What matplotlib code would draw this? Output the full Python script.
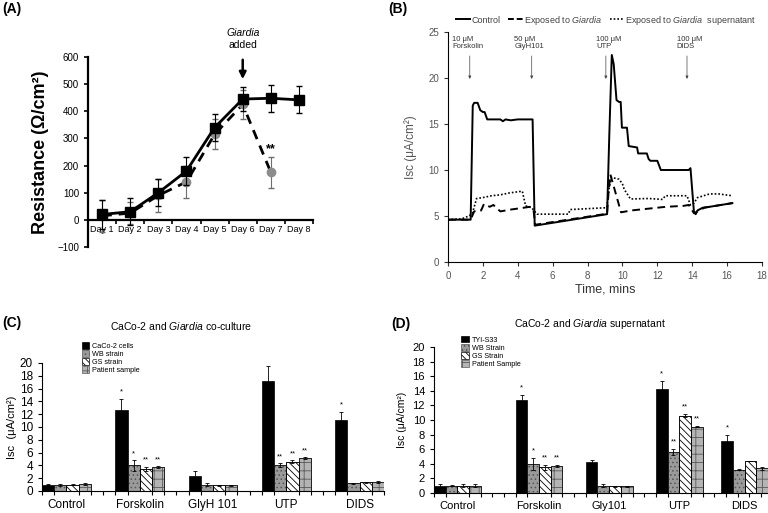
import numpy as np
import matplotlib
matplotlib.use('Agg')
import matplotlib.pyplot as plt
from matplotlib.lines import Line2D
from matplotlib.patches import Patch

plt.rcParams['font.family'] = ['Liberation Sans', 'DejaVu Sans']
plt.rcParams['mathtext.fontset'] = 'custom'
plt.rcParams['mathtext.rm'] = 'Liberation Sans'
plt.rcParams['mathtext.it'] = 'Liberation Sans:italic'
plt.rcParams['hatch.linewidth'] = 0.6

# (A) resistencia
days = ['Day 1', 'Day 2', 'Day 3', 'Day 4', 'Day 5', 'Day 6', 'Day 7', 'Day 8']
res_control = [20, 30, 100, 180, 340, 445, 448, 442]
res_control_err = [55, 50, 50, 50, 50, 45, 50, 50]
res_giardia = [15, 25, 90, 140, 315, 425, 175]
res_giardia_err = [60, 40, 60, 60, 55, 55, 58]

# (B) Isc vs tiempo
t_ctrl = [0, 1.3, 1.42, 1.5, 1.7, 1.85, 2.0, 2.1, 2.25, 2.5, 3.0, 3.15, 3.3, 3.6, 4.0, 4.85,
          4.97, 9.12, 9.25, 9.39, 9.5, 9.66, 9.8, 9.9, 9.97, 10.26, 10.36, 10.84, 10.9, 11.4,
          11.5, 11.6, 12.0, 12.2, 13.8, 13.9, 14.1, 14.2, 14.3, 14.6, 15.0, 16.3]
isc_ctrl = [4.6, 4.6, 17.0, 17.3, 17.3, 16.5, 16.3, 16.3, 15.5, 15.5, 15.5, 15.3, 15.5, 15.4, 15.5, 15.5,
            3.95, 5.2, 14.0, 22.5, 21.5, 17.6, 17.4, 17.4, 14.6, 14.6, 12.6, 12.45, 11.8, 11.8,
            11.2, 11.0, 11.0, 10.0, 10.0, 10.2, 5.4, 5.2, 5.6, 5.9, 6.0, 6.4]
t_gia = [0, 1.3, 1.5, 1.7, 1.9, 2.06, 2.4, 2.6, 3.0, 3.6, 4.35, 4.7, 4.9, 5.0, 9.12, 9.2,
         9.31, 9.92, 10.5, 11.5, 12.5, 13.5, 13.8, 14.1, 14.3, 14.7, 15.0, 16.3]
isc_gia = [4.6, 4.6, 5.5, 5.6, 5.6, 6.3, 6.0, 6.2, 5.5, 5.7, 5.9, 6.0, 5.7, 4.05, 5.25, 7.5,
           9.5, 5.4, 5.6, 5.8, 6.0, 6.1, 6.2, 5.3, 5.5, 5.9, 6.0, 6.4]
t_sup = [0, 0.8, 1.2, 1.4, 1.64, 2.0, 2.5, 3.0, 3.5, 4.26, 4.45, 4.8, 5.1, 6.9, 7.0, 9.1,
         9.25, 9.37, 9.8, 10.0, 10.1, 10.46, 11.5, 12.3, 12.46, 13.7, 13.9, 14.1, 14.3, 15.0,
         15.5, 16.3]
isc_sup = [4.6, 4.7, 5.0, 5.3, 6.9, 7.0, 7.2, 7.3, 7.5, 7.7, 6.1, 5.9, 5.2, 5.2, 5.7, 5.9,
           8.2, 9.2, 9.0, 8.5, 7.9, 6.85, 6.9, 6.8, 7.2, 7.2, 6.2, 6.4, 7.0, 7.4,
           7.4, 7.2]
drug_labels = ['10 μM\nForskolin', '50 μM\nGlyH101', '100 μM\nUTP', '100 μM\nDIDS']
drug_times = [1.25, 4.8, 9.05, 13.7]
drug_text_x = [0.25, 3.8, 8.5, 13.1]

# (C) co-cultivo
groups_c = ['Control', 'Forskolin', 'GlyH 101', 'UTP', 'DIDS']
start_c = [0, 6, 12, 18, 24]
caco_c = [1.0, 12.6, 2.3, 17.2, 11.1]
caco_c_err = [0.05, 1.8, 0.9, 2.4, 1.3]
wb_c = [1.0, 4.0, 1.0, 4.0, 1.2]
wb_c_err = [0.15, 0.8, 0.2, 0.3, 0.05]
gs_c = [1.0, 3.5, 0.9, 4.6, 1.35]
gs_c_err = [0.05, 0.3, 0.1, 0.2, 0.05]
pat_c = [1.05, 3.7, 0.9, 5.1, 1.4]
pat_c_err = [0.15, 0.15, 0.1, 0.15, 0.2]
sig_c = [['', '*', '', '', '*'], ['', '*', '', '**', ''], ['', '**', '', '**', ''], ['', '**', '', '**', '']]

# (D) sobrenadante
groups_d = ['Control', 'Forskolin', 'Gly101', 'UTP', 'DIDS']
start_d = [0, 7, 13, 19, 24.6]
tyi_d = [1.0, 12.7, 4.3, 14.2, 7.1]
tyi_d_err = [0.25, 0.7, 0.25, 1.1, 0.9]
wb_d = [1.0, 4.0, 1.0, 5.6, 3.2]
wb_d_err = [0.1, 0.8, 0.2, 0.4, 0.05]
gs_d = [1.0, 3.5, 0.9, 10.6, 4.4]
gs_d_err = [0.2, 0.3, 0.1, 0.2, 0.05]
pat_d = [1.0, 3.7, 0.9, 9.1, 3.4]
pat_d_err = [0.2, 0.1, 0.1, 0.1, 0.2]
sig_d = [['', '*', '', '*', '*'], ['', '*', '', '**', ''], ['', '**', '', '**', ''], ['', '**', '', '**', '']]

bar_styles = [dict(facecolor='black', edgecolor='black', hatch=None),
              dict(facecolor='#9a9a9a', edgecolor='#555555', hatch='....'),
              dict(facecolor='white', edgecolor='black', hatch='\\\\\\\\\\'),
              dict(facecolor='#b4b4b4', edgecolor='#5a5a5a', hatch='++')]

fig = plt.figure(figsize=(7.68, 5.13), dpi=100)

# ---------- (A)
axA = fig.add_axes([0.1146, 0.5185, 0.293, 0.3704])
x = np.arange(1, len(days) + 1)
axA.errorbar(x[:len(res_giardia)], res_giardia, yerr=res_giardia_err, color='black', lw=2,
             ls=(0, (3.5, 2.5)), marker='o', ms=6, mfc='#8c8c8c', mec='#8c8c8c',
             ecolor='#6e6e6e', elinewidth=0.8, capsize=2.5, zorder=2)
axA.errorbar(x, res_control, yerr=res_control_err, color='black', lw=2, marker='s', ms=6.5,
             ecolor='black', elinewidth=0.8, capsize=2.5, zorder=3)
axA.set_xlim(0.5, 8.5)
axA.set_ylim(-100, 600)
axA.spines['bottom'].set_position(('data', 0))
for s in ['top', 'right']:
    axA.spines[s].set_visible(False)
for s in ['left', 'bottom']:
    axA.spines[s].set_linewidth(1.6)
axA.set_yticks(range(-100, 601, 100))
axA.set_xticks(x)
axA.set_xticklabels(days)
axA.set_xticks(np.arange(0.5, 8.6, 1), minor=True)
axA.tick_params(axis='x', which='major', length=0, pad=4, labelsize=6.5)
axA.tick_params(axis='x', which='minor', length=3, width=1.2, direction='out')
axA.tick_params(axis='y', length=3, width=1.2, labelsize=7)
axA.set_ylabel('Resistance (Ω/cm²)', fontsize=13, fontweight='bold', labelpad=6)
axA.annotate('', xy=(6, 508), xytext=(6, 600),
             arrowprops=dict(arrowstyle='-|>', lw=1.8, color='black', mutation_scale=10),
             annotation_clip=False)
axA.text(6, 690, 'Giardia', style='italic', ha='center', va='center', fontsize=7.5)
axA.text(6, 645, 'added', ha='center', va='center', fontsize=7.5)
axA.text(7, 262, '**', ha='center', va='center', fontsize=9, fontweight='bold')

# ---------- (B)
axB = fig.add_axes([0.5833, 0.4893, 0.4089, 0.4483])
axB.plot(t_ctrl, isc_ctrl, color='black', lw=1.4)
axB.plot(t_gia, isc_gia, color='black', lw=1.4, ls=(0, (4, 2.5)))
axB.plot(t_sup, isc_sup, color='black', lw=1.2, ls=(0, (1, 1.2)))
axB.set_xlim(0, 18)
axB.set_ylim(0, 25)
axB.set_xticks(range(0, 19, 2))
axB.set_yticks(range(0, 26, 5))
for s in ['top', 'right']:
    axB.spines[s].set_visible(False)
axB.tick_params(labelsize=7, labelcolor='#555555', length=3, color='#333333')
axB.set_xlabel('Time, mins', fontsize=9, color='#333333', labelpad=2)
axB.set_ylabel('Isc (μA/cm²)', fontsize=8.5, color='#555555', labelpad=8)
for lab, tx, tt in zip(drug_labels, drug_text_x, drug_times):
    axB.text(tx, 24.6, lab, ha='left', va='top', fontsize=5.5, color='#333333', linespacing=1.1)
    axB.annotate('', xy=(tt, 19.6), xytext=(tt, 22.7),
                 arrowprops=dict(arrowstyle='-|>', lw=0.5, color='#444444', mutation_scale=4))
leg_handles = [Line2D([], [], color='black', lw=1.4),
               Line2D([], [], color='black', lw=1.4, ls=(0, (3, 1.5))),
               Line2D([], [], color='black', lw=1.2, ls=(0, (1, 1.2)))]
leg_labels = ['Control', 'Exposed to $\\mathit{Giardia}$',
              'Exposed to $\\mathit{Giardia}$  supernatant']
fig.legend(leg_handles, leg_labels, loc='center', bbox_to_anchor=(0.789, 0.961), ncol=3,
           frameon=False, fontsize=6.5, handlelength=1.6, columnspacing=0.9,
           handletextpad=0.1, labelcolor='#444444')


def draw_bars(ax, starts, series, errs, sigs, labels, leg_names, leg_anchor, xmax):
    starts = np.array(starts, dtype=float)
    for i, (vals, err, sig) in enumerate(zip(series, errs, sigs)):
        pos = starts + i
        st = bar_styles[i]
        ax.bar(pos, vals, width=1, align='edge', facecolor=st['facecolor'],
               edgecolor=st['edgecolor'], hatch=st['hatch'], lw=0.5, zorder=2)
        if st['hatch']:
            ax.bar(pos, vals, width=1, align='edge', facecolor='none',
                   edgecolor='black', lw=0.5, zorder=3)
        ax.errorbar(pos + 0.5, vals, yerr=err, fmt='none', ecolor='black',
                    elinewidth=0.6, capsize=1.2, capthick=0.6, zorder=4)
        for p, v, e, s in zip(pos, vals, err, sig):
            if s:
                ax.text(p + 0.5, v + e + 0.5, s, ha='center', va='bottom', fontsize=5.5)
    ax.set_xlim(0, xmax)
    ax.set_ylim(0, 20)
    ax.set_yticks(range(0, 21, 2))
    ax.set_xticks(starts + 2)
    ax.set_xticklabels(labels)
    ax.set_xticks(np.arange(0, int(xmax) + 1), minor=True)
    ax.tick_params(axis='x', which='major', length=0, pad=6, labelsize=8.5)
    ax.tick_params(axis='x', which='minor', length=3, width=0.8, direction='out')
    ax.tick_params(axis='y', length=3, width=0.8, labelsize=8.5)
    for s in ['top', 'right']:
        ax.spines[s].set_visible(False)
    handles = [Patch(facecolor=st['facecolor'], edgecolor=st['edgecolor'], hatch=st['hatch'], lw=0.5)
               for st in bar_styles]
    ax.legend(handles, leg_names, loc='upper left', bbox_to_anchor=leg_anchor, frameon=False,
              fontsize=5.2, handlelength=1.1, handleheight=1.0, labelspacing=0.05,
              borderpad=0, handletextpad=0.4)


# ---------- (C)
axC = fig.add_axes([0.0547, 0.0429, 0.4453, 0.2495])
draw_bars(axC, start_c, [caco_c, wb_c, gs_c, pat_c],
          [caco_c_err, wb_c_err, gs_c_err, pat_c_err], sig_c, groups_c,
          ['CaCo-2 cells', 'WB strain', 'GS strain', 'Patient sample'], (0.105, 1.19), 28)
axC.set_ylabel('Isc  (μA/cm²)', fontsize=8, labelpad=2)

# ---------- (D)
axD = fig.add_axes([0.5651, 0.039, 0.4349, 0.2846])
draw_bars(axD, start_d, [tyi_d, wb_d, gs_d, pat_d],
          [tyi_d_err, wb_d_err, gs_d_err, pat_d_err], sig_d, groups_d,
          ['TYI-S33', 'WB Strain', 'GS Strain', 'Patient Sample'], (0.07, 1.1), 28.6)
axD.tick_params(axis='y', labelsize=8)
axD.tick_params(axis='x', which='major', labelsize=8)
axD.set_ylabel('Isc (μA/cm²)', fontsize=7.5, labelpad=4)

fig.text(0.236, 0.3645, 'CaCo-2 and $\\mathit{Giardia}$ co-culture', ha='center', va='center', fontsize=7.5)
fig.text(0.768, 0.368, 'CaCo-2 and $\\mathit{Giardia}$ supernatant', ha='center', va='center', fontsize=7.5)

for lab, px, py in [('(A)', 0.003, 0.982), ('(B)', 0.505, 0.982), ('(C)', 0.003, 0.37), ('(D)', 0.509, 0.368)]:
    fig.text(px, py, lab, fontsize=10, fontweight='bold', va='center')

fig.savefig('out.png', dpi=100)
